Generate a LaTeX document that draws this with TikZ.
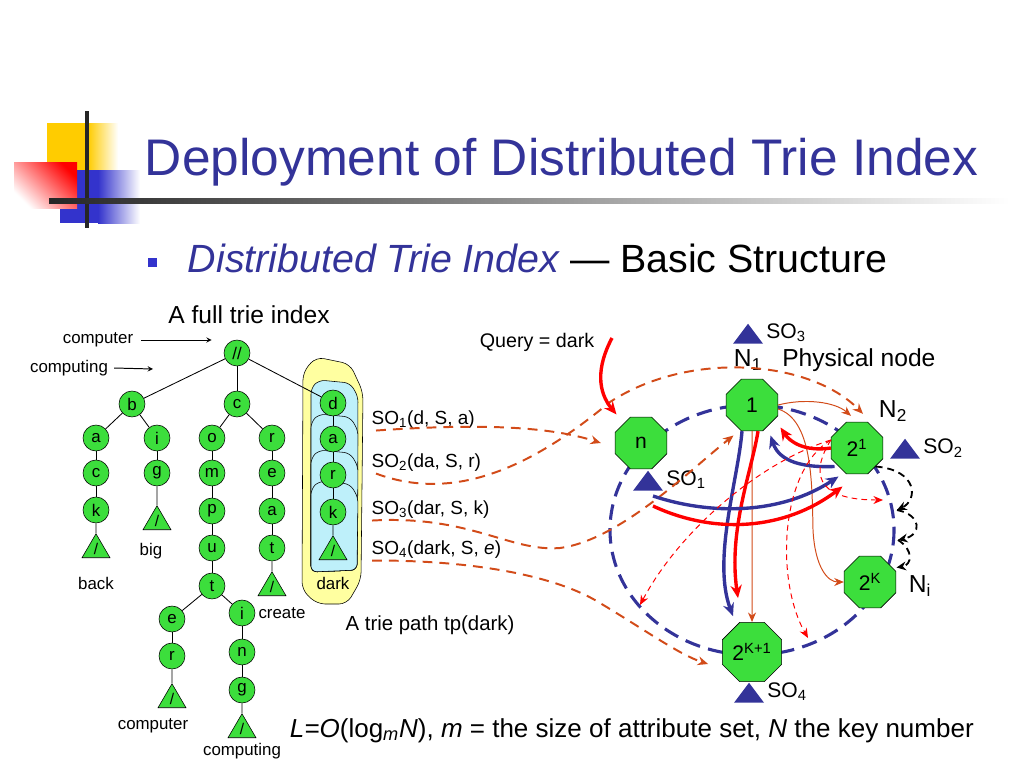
\documentclass[tikz,border=0pt]{standalone}
\usepackage{fontspec}
\setmainfont{Liberation Sans}
\usetikzlibrary{arrows.meta,positioning,shapes.geometric,backgrounds}

\definecolor{slateblue}{RGB}{51,51,153}
\definecolor{leafgreen}{RGB}{60,222,60}
\definecolor{rust}{RGB}{210,75,25}
\definecolor{pathyellow}{RGB}{255,255,160}
\definecolor{pathcyan}{RGB}{190,240,250}
\definecolor{goldsq}{RGB}{255,204,0}
\definecolor{bluesq}{RGB}{51,51,204}

\begin{document}
\begin{tikzpicture}[
  x=0.25mm, y=-0.25mm,
  >=stealth,
  trienode/.style={
    circle, minimum size=6.5mm, inner sep=0pt,
    draw, thin, fill=leafgreen, font=\fontsize{12}{13}\selectfont
  },
  leaf/.style={
    isosceles triangle, isosceles triangle stretches, shape border rotate=90,
    minimum width=7mm, minimum height=6mm, inner sep=0pt,
    draw, thin, fill=leafgreen, font=\fontsize{11}{11}\selectfont
  },
  leaflbl/.style={font=\fontsize{12}{14}\selectfont, inner sep=0pt},
  physnode/.style={
    regular polygon, regular polygon sides=8, minimum size=14mm, inner sep=1pt,
    draw, thin, fill=leafgreen, font=\fontsize{15}{17}\selectfont
  },
  sotri/.style={
    isosceles triangle, isosceles triangle stretches, shape border rotate=90,
    minimum width=7.5mm, minimum height=5mm, inner sep=0pt, fill=slateblue
  },
  marklbl/.style={font=\fontsize{15}{17}\selectfont, inner sep=0pt},
  biglbl/.style={font=\fontsize{17.5}{20}\selectfont, inner sep=0pt},
  solbl/.style={font=\fontsize{13.5}{16}\selectfont, inner sep=1pt},
  treeedge/.style={draw, line width=0.6pt},
  feed/.style={->, line width=0.7pt, shorten >=3mm},
  pathblob/.style={draw, thin, fill=pathyellow, rounded corners=2mm},
  pathcard/.style={draw, thin, fill=pathcyan, rounded corners=1.5mm},
  ring/.style={slateblue, line width=2.2pt, dash pattern=on 11pt off 6pt},
  sopath/.style={-{Stealth[length=2.6mm,width=2.2mm]}, rust, line width=1.4pt, dash pattern=on 7pt off 5pt},
  thinlink/.style={-{Stealth[length=2.4mm,width=2mm]}, rust, line width=0.7pt},
  bluehop/.style={-{Stealth[length=3.2mm,width=2.8mm]}, slateblue, line width=2.4pt},
  redhop/.style={-{Stealth[length=3.2mm,width=2.8mm]}, red, line width=2.4pt},
  probe/.style={-{Stealth[length=2.4mm,width=2mm]}, red, line width=0.7pt, dash pattern=on 4pt off 3pt},
  succ/.style={-{Stealth[length=2.4mm,width=2.2mm]}, line width=1.3pt, dash pattern=on 5pt off 3.5pt}
]
\useasboundingbox (0,0) rectangle (1024,768);

% Title bar
\fill[goldsq] (47,123) rectangle (88,170);
\shade[left color=goldsq, right color=white] (88,123) rectangle (118,170);
\fill[bluesq] (60,170) rectangle (98,223);
\shade[left color=bluesq, right color=white] (98,170) rectangle (140,223);
\shade[top color=red, bottom color=white, shading angle=-45] (14,162) rectangle (77,208);
\fill[black!85] (85,111) rectangle (89,228);
\shade[left color=black!85, right color=white] (49,198) rectangle (1010,203);

\node[anchor=base west, text=slateblue, font=\fontsize{36.6}{40}\selectfont] (title)
  at (140,175) {Deployment of Distributed Trie Index};
\fill[bluesq] (148,258) rectangle (157,267);
\node[anchor=base west, font=\fontsize{28}{32}\selectfont] (subtitle) at (183,272)
  {\textcolor{slateblue}{\itshape Distributed Trie Index} --- Basic Structure};

% ===== Trie path tp(dark) =====
\draw[pathblob] (303,372) -- (316,357) -- (350,364) -- (363,392) -- (361,580)
  -- (347,604) -- (317,604) -- (302,590) -- cycle;
\foreach \cardy in {380,414,450,481}
  \draw[pathcard] (311,\cardy+8) -- (319,\cardy) -- (350,\cardy+3) -- (358,\cardy+16)
    -- (357,570) -- (311,572) -- cycle;

% ===== Full trie index =====
\node[biglbl] (fulltrie) at (249,315) {A full trie index};

\foreach \nm/\lt/\x/\y in {root/{//}/237/353,
    b/b/132/404, ba/a/96/438, bac/c/96/473, back/k/96/510,
    bi/i/157/438, big/g/157/473,
    c/c/237/404, co/o/212/438, com/m/212/473, comp/p/212/511, compu/u/212/548,
    comput/t/212/586, compute/e/172/619, computer/r/172/656,
    computi/i/242/613, computin/n/242/652, computing/g/242/690,
    cr/r/272/438, cre/e/272/473, crea/a/272/511, creat/t/272/548,
    d/d/333/403, da/a/333/439, dar/r/333/475, dark/k/333/512}
  \node[trienode] (\nm) at (\x,\y) {\lt};

\foreach \nm/\x/\y in {back-leaf/96/533, big-leaf/157/505, create-leaf/272/571,
    computer-leaf/172/683, computing-leaf/242/713, dark-leaf/333/535}
  \node[leaf, anchor=apex] (\nm) at (\x,\y) {/};

\foreach \src/\dst in {root/b, root/c, root/d, b/ba, b/bi, ba/bac, bac/back,
    back/back-leaf, bi/big, big/big-leaf, c/co, c/cr, co/com, com/comp, comp/compu,
    compu/comput, comput/compute, compute/computer, computer/computer-leaf,
    comput/computi, computi/computin, computin/computing, computing/computing-leaf,
    cr/cre, cre/crea, crea/creat, creat/create-leaf,
    d/da, da/dar, dar/dark, dark/dark-leaf}
  \draw[treeedge] (\src) -- (\dst);

\node[leaflbl, below=4.75mm of back-leaf] (back-lbl) {back};
\node[leaflbl, below=3.25mm of big-leaf, xshift=-1.5mm] (big-lbl) {big};
\node[leaflbl, below=2.75mm of create-leaf, xshift=2.5mm] (create-lbl) {create};
\node[leaflbl, below=2.5mm of computer-leaf, xshift=-4.75mm] (computer-lbl) {computer};
\node[leaflbl, below=1.25mm of computing-leaf] (computing-lbl) {computing};
\node[leaflbl, below=4.25mm of dark-leaf] (dark-lbl) {dark};

% Keys entering the trie
\node[leaflbl] (in-computer) at (98,340) {computer};
\node[leaflbl] (in-computing) at (69,368) {computing};
\coordinate (computing-tip) at (153,369);
\draw[feed] ([xshift=2mm]in-computer.east) -- (in-computer.east -| root.west);
\draw[feed, shorten >=0pt] ([xshift=1.5mm]in-computing.east) -- (computing-tip);

% Index entries of the path
\node[solbl, anchor=west] (so1) at (370,420) {SO\textsubscript{1}(d, S, a)};
\node[solbl, anchor=west] (so2) at (370,463) {SO\textsubscript{2}(da, S, r)};
\node[solbl, anchor=west] (so3) at (370,510) {SO\textsubscript{3}(dar, S, k)};
\node[solbl, anchor=west] (so4) at (370,550) {SO\textsubscript{4}(dark, S, \textit{e})};
\node[font=\fontsize{14.5}{17}\selectfont] (tplabel) at (430,625) {A trie path tp(dark)};

% ===== Physical nodes on the ring =====
\node[physnode] (n) at (641,443) {n};
\node[physnode] (one) at (752,405) {1};
\node[physnode] (two1) at (857,448) {2\textsuperscript{1}};
\node[physnode] (twoK) at (870,582) {2\textsuperscript{K}};
\node[physnode] (twoK1) at (752,652) {2\textsuperscript{K+1}};

\begin{scope}[on background layer]
  \draw[ring] (752,530) ellipse [x radius=142, y radius=125];
\end{scope}

\node[sotri, anchor=apex] (so3tri) at (748,323) {};
\node[marklbl, anchor=west] (so3mark) at (766,333) {SO\textsubscript{3}};
\node[sotri, anchor=apex] (so2tri) at (905,438) {};
\node[marklbl, anchor=west] (so2mark) at (923,448) {SO\textsubscript{2}};
\node[sotri, anchor=apex] (so1tri) at (648,470) {};
\node[marklbl, anchor=west] (so1mark) at (666,480) {SO\textsubscript{1}};
\node[sotri, anchor=apex] (so4tri) at (749,682) {};
\node[marklbl, anchor=west] (so4mark) at (767,692) {SO\textsubscript{4}};

\node[biglbl] (n1lbl) at (748,360) {N\textsubscript{1}};
\node[biglbl, anchor=west] (physlbl) at (782,360) {Physical node};
\node[biglbl] (n2lbl) at (893,411) {N\textsubscript{2}};
\node[biglbl] (nilbl) at (920,586) {N\textsubscript{i}};

\node[font=\fontsize{14}{16}\selectfont] (query) at (537,342) {Query = dark};

% Free ends of connectors
\coordinate (qstart) at (612,338);
\coordinate (bstart) at (653,496);
\coordinate (rstart) at (653,506);
\coordinate (ringSW) at (640,605);
\coordinate (ringS) at (808,638);
\coordinate (ringE) at (883,500);
\coordinate (hop1) at (897,510);
\coordinate (hop2) at (898,540);

% SO entries shipped to their nodes
\draw[sopath] ([xshift=1.5mm]so1.south west) .. controls (470,424) and (545,425)
  .. ([xshift=-3.5mm]n.west);
\draw[sopath] ([xshift=1.5mm]so2.south west) .. controls (460,505) and (540,460)
  .. (610,402) .. controls (690,350) and (810,360) .. ([xshift=1.5mm,yshift=2mm]two1.north);
\draw[sopath] ([xshift=0.5mm]so3.south west) .. controls (470,515) and (510,552)
  .. (560,548) .. controls (620,540) and (690,470) .. ([yshift=-3mm]one.south west);
\draw[sopath] ([xshift=0.5mm]so4.south west) .. controls (470,560) and (555,575)
  .. (600,603) .. controls (645,630) and (680,655) .. ([xshift=-3.5mm,yshift=-3mm]twoK1.west);

% Query routing
\draw[redhop] (qstart) .. controls (596,368) and (598,392) .. ([xshift=-1.5mm,yshift=2.5mm]n.north west);

% Finger links of node 1
\draw[thinlink] (one.east) .. controls (805,398) and (835,402) .. ([xshift=-1.5mm,yshift=1.5mm]two1.north);
\draw[thinlink] ([yshift=-1mm]one.east) .. controls (812,420) and (812,480) .. (813,530)
  .. controls (815,568) and (828,582) .. (twoK.west);
\draw[thinlink] (one.south) -- (twoK1.north);

% Hops
\draw[bluehop] ([xshift=-2.5mm]one.south) .. controls (738,480) and (712,560)
  .. ([xshift=-4.75mm,yshift=1.5mm]twoK1.north);
\draw[redhop] ([xshift=1.5mm]one.south) .. controls (752,470) and (728,530)
  .. ([xshift=-3.5mm,yshift=6mm]twoK1.north);
\draw[bluehop] (bstart) .. controls (710,515) and (780,515) .. ([yshift=-2.5mm]two1.south west);
\draw[redhop] (rstart) .. controls (715,535) and (785,530) .. ([xshift=1mm,yshift=-5mm]two1.south west);
\draw[bluehop] ([xshift=-1mm]two1.south west) .. controls (795,468) and (778,458)
  .. ([yshift=-3mm]one.south east);
\draw[redhop] (two1.west) .. controls (805,452) and (790,442)
  .. ([xshift=2.5mm,yshift=-1mm]one.south east);

% Probes of node 2^1
\draw[probe] ([yshift=2mm]two1.west) .. controls (760,462) and (680,530) .. (ringSW);
\draw[probe] ([yshift=2mm]two1.west) .. controls (780,470) and (775,580) .. (ringS);
\draw[probe] ([yshift=2mm]two1.west) .. controls (812,470) and (812,500) .. (ringE);

% Successor steps
\draw[succ] (two1.south east) .. controls (918,470) and (918,500) .. (hop1);
\draw[succ] (hop1) .. controls (922,515) and (922,535) .. (hop2);
\draw[succ] (hop2) .. controls (914,550) and (912,565) .. ([xshift=2mm,yshift=-1mm]twoK.north east);

% Cost
\node[anchor=base west, font=\fontsize{18.5}{21}\selectfont] (formula) at (285,737)
  {\textit{L=O}(log\textsubscript{\textit{m}}\textit{N}), \textit{m} = the size of attribute set, \textit{N} the key number};

\end{tikzpicture}
\end{document}
